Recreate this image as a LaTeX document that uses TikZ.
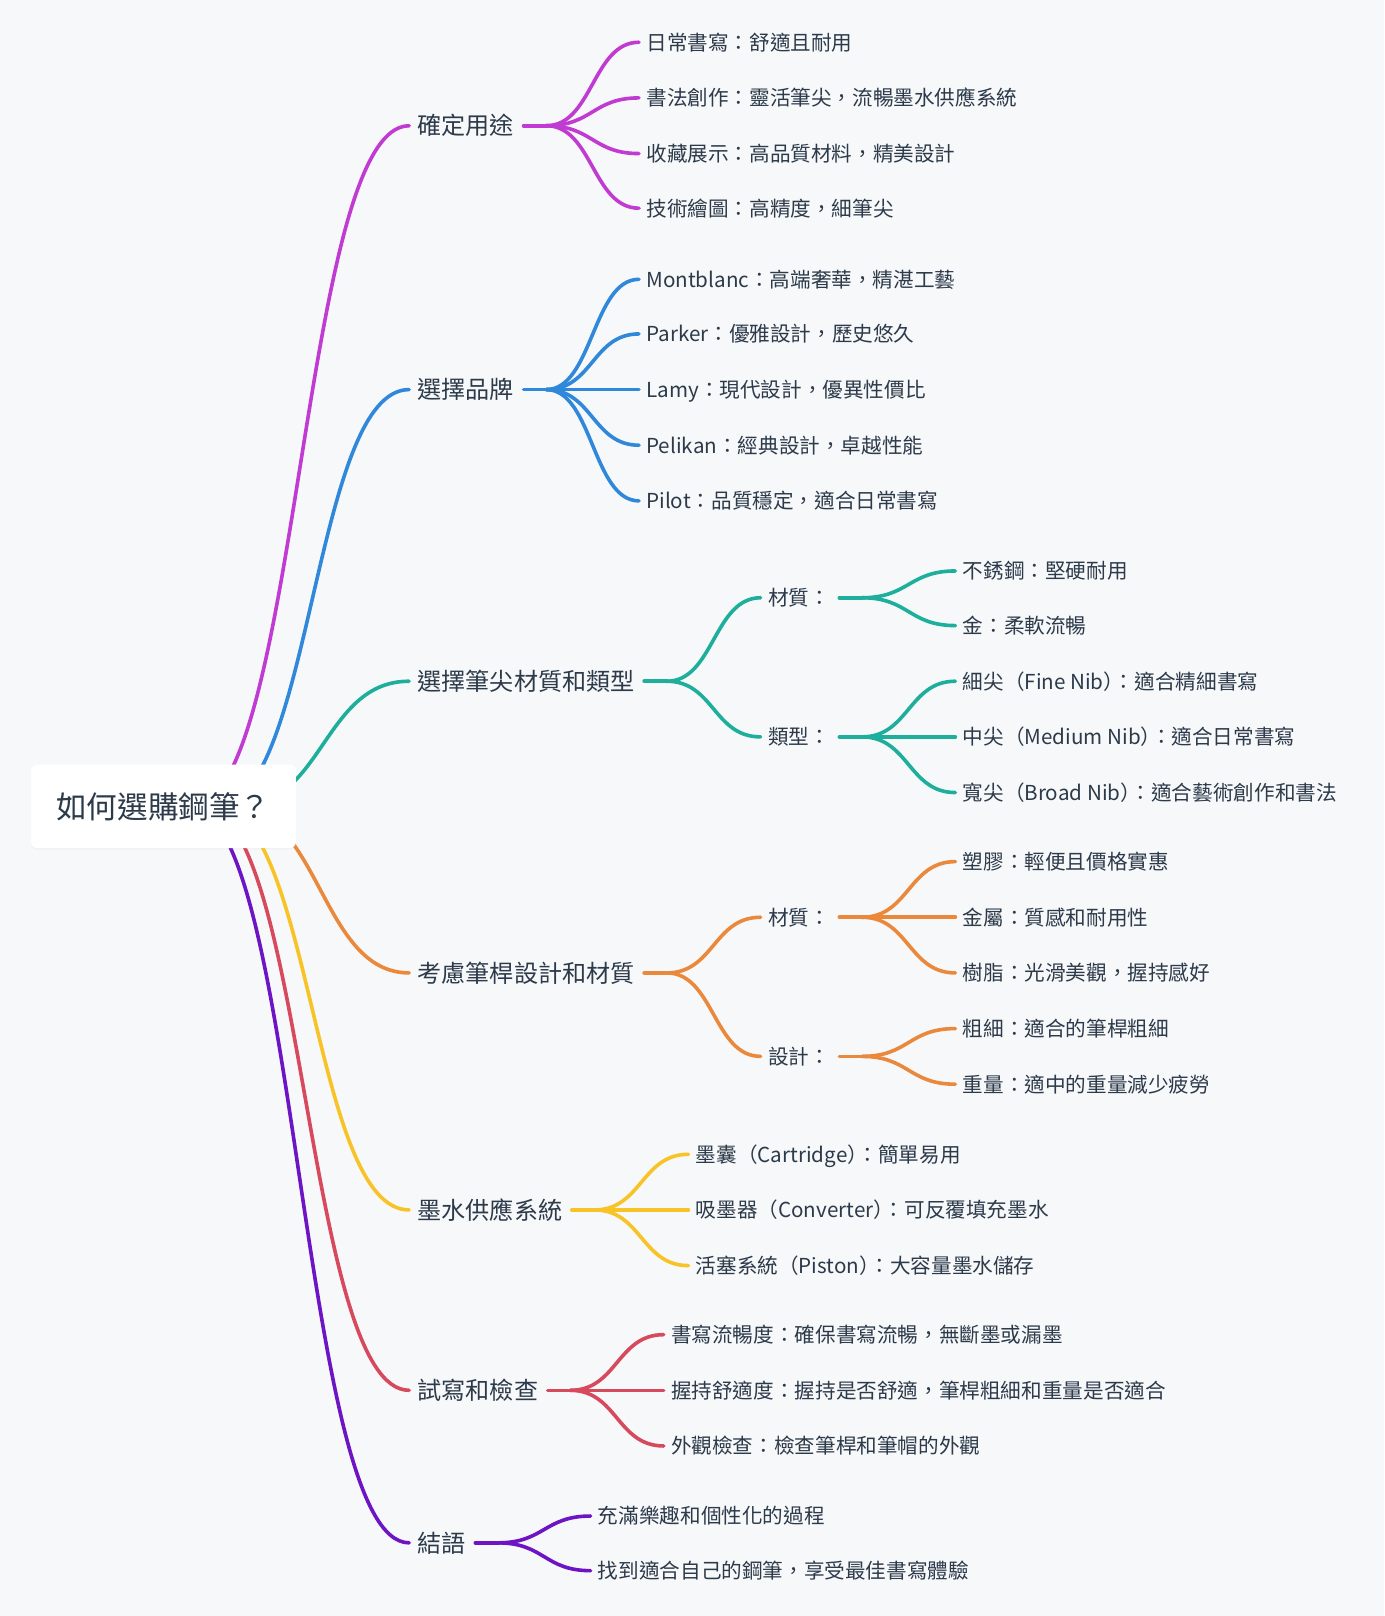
\documentclass[tikz,border=0pt]{standalone}
\usepackage{fontspec}
\setmainfont{Noto Sans CJK TC}
\usepackage{tikz}
\usetikzlibrary{calc, backgrounds, shadows}
\usepackage{xcolor}
\definecolor{MapBg}{HTML}{F7F8FA}
\definecolor{MapText}{HTML}{2C3A4A}
\definecolor{MapPurple}{HTML}{C13BD3}
\definecolor{MapBlue}{HTML}{3088DA}
\definecolor{MapTeal}{HTML}{1DAF9B}
\definecolor{MapOrange}{HTML}{EA893B}
\definecolor{MapYellow}{HTML}{F8C327}
\definecolor{MapRed}{HTML}{D7495C}
\definecolor{MapViolet}{HTML}{6D15C5}
\tikzset{
    % Node styles
    rootbox/.style={
        rectangle,
        rounded corners=6pt,
        fill=white,
        minimum width=257pt,
        minimum height=81pt,
        text height=26.1pt,
        text depth=3.6pt,
        text=MapText,
        font=\fontsize{29.7}{34}\selectfont,
        drop shadow={opacity=0.05, shadow xshift=0pt, shadow yshift=-1.5pt}
    },
    branch/.style={
        anchor=west,
        inner sep=0pt,
        text height=20.6pt,
        text depth=2.8pt,
        text=MapText,
        font=\fontsize{23.4}{28}\selectfont
    },
    leaf/.style={
        anchor=west,
        inner sep=0pt,
        text height=17.6pt,
        text depth=2.4pt,
        text=MapText,
        font=\fontsize{20}{24}\selectfont
    },
    % Connector style - smooth horizontal links
    link/.style={
        line width=3.5pt,
        line cap=round,
        to path={let \p1=(\tikztostart), \p2=(\tikztotarget) in
            .. controls ({(\x1+\x2)/2},\y1) and ({(\x1+\x2)/2},\y2) .. (\tikztotarget)}
    }
}
% closing paren followed by colon, set tight
\newcommand{\pcolon}{）\kern-.5em：}
\begin{document}
\begin{tikzpicture}[x=1pt, y=-1pt]
    \useasboundingbox (0,0) rectangle (1343,1568);

    % Root
    \node[rootbox] (r) at (158.5,782.5) {如何選購鋼筆？};

    % Main branches
    \node[branch] (b1) at (405,122) {確定用途};
    \node[branch] (b2) at (405,378) {選擇品牌};
    \node[branch] (b3) at (405,661) {選擇筆尖材質和類型};
    \node[branch] (b4) at (405,944) {考慮筆桿設計和材質};
    \node[branch] (b5) at (405,1174) {墨水供應系統};
    \node[branch] (b6) at (405,1349) {試寫和檢查};
    \node[branch] (b7) at (405,1497) {結語};

    % Use
    \node[leaf] (l11) at (627,41) {日常書寫：舒適且耐用};
    \node[leaf] (l12) at (627,95) {書法創作：靈活筆尖，流暢墨水供應系統};
    \node[leaf] (l13) at (627,149) {收藏展示：高品質材料，精美設計};
    \node[leaf] (l14) at (627,202) {技術繪圖：高精度，細筆尖};

    % Brands
    \node[leaf] (l21) at (627,271) {Montblanc：高端奢華，精湛工藝};
    \node[leaf] (l22) at (627,324) {Parker：優雅設計，歷史悠久};
    \node[leaf] (l23) at (627,378) {Lamy：現代設計，優異性價比};
    \node[leaf] (l24) at (627,432) {Pelikan：經典設計，卓越性能};
    \node[leaf] (l25) at (627,486) {Pilot：品質穩定，適合日常書寫};

    % Nib
    \node[leaf] (m31) at (745,580) {材質：};
    \node[leaf] (m32) at (745,715) {類型：};
    \node[leaf] (l311) at (934,554) {不銹鋼：堅硬耐用};
    \node[leaf] (l312) at (934,607) {金：柔軟流暢};
    \node[leaf] (l321) at (934,661) {細尖（Fine Nib\pcolon 適合精細書寫};
    \node[leaf] (l322) at (934,715) {中尖（Medium Nib\pcolon 適合日常書寫};
    \node[leaf] (l323) at (934,769) {寬尖（Broad Nib\pcolon 適合藝術創作和書法};

    % Barrel
    \node[leaf] (m41) at (745,890) {材質：};
    \node[leaf] (m42) at (745,1025) {設計：};
    \node[leaf] (l411) at (934,836) {塑膠：輕便且價格實惠};
    \node[leaf] (l412) at (934,890) {金屬：質感和耐用性};
    \node[leaf] (l413) at (934,944) {樹脂：光滑美觀，握持感好};
    \node[leaf] (l421) at (934,998) {粗細：適合的筆桿粗細};
    \node[leaf] (l422) at (934,1052) {重量：適中的重量減少疲勞};

    % Ink
    \node[leaf] (l51) at (675,1120) {墨囊（Cartridge\pcolon 簡單易用};
    \node[leaf] (l52) at (675,1174) {吸墨器（Converter\pcolon 可反覆填充墨水};
    \node[leaf] (l53) at (675,1228) {活塞系統（Piston\pcolon 大容量墨水儲存};

    % Test
    \node[leaf] (l61) at (651,1295) {書寫流暢度：確保書寫流暢，無斷墨或漏墨};
    \node[leaf] (l62) at (651,1349) {握持舒適度：握持是否舒適，筆桿粗細和重量是否適合};
    \node[leaf] (l63) at (651,1403) {外觀檢查：檢查筆桿和筆帽的外觀};

    % Conclusion
    \node[leaf] (l71) at (580,1471) {充滿樂趣和個性化的過程};
    \node[leaf] (l72) at (580,1524) {找到適合自己的鋼筆，享受最佳書寫體驗};

    \begin{scope}[on background layer]
        \fill[MapBg] (0,0) rectangle (1343,1568);

        % Root to branches
        \draw[link, MapPurple] ([xshift=27pt]r.center) to ([xshift=-8pt]b1.west);
        \draw[link, MapBlue] ([xshift=51pt]r.center) to ([xshift=-8pt]b2.west);
        \draw[link, MapTeal] ([xshift=72pt]r.center) to ([xshift=-8pt]b3.west);
        \draw[link, MapOrange] ([xshift=66pt]r.center) to ([xshift=-8pt]b4.west);
        \draw[link, MapYellow] ([xshift=50pt]r.center) to ([xshift=-8pt]b5.west);
        \draw[link, MapRed] ([xshift=37pt]r.center) to ([xshift=-8pt]b6.west);
        \draw[link, MapViolet] ([xshift=25pt]r.center) to ([xshift=-8pt]b7.west);

        % Use
        \draw[link, MapPurple] ([xshift=9pt]b1.east) -- ([xshift=31pt]b1.east);
        \draw[link, MapPurple] ([xshift=31pt]b1.east) to ([xshift=-7pt]l11.west);
        \draw[link, MapPurple] ([xshift=31pt]b1.east) to ([xshift=-7pt]l12.west);
        \draw[link, MapPurple] ([xshift=31pt]b1.east) to ([xshift=-7pt]l13.west);
        \draw[link, MapPurple] ([xshift=31pt]b1.east) to ([xshift=-7pt]l14.west);

        % Brands
        \draw[link, MapBlue] ([xshift=9pt]b2.east) -- ([xshift=31pt]b2.east);
        \draw[link, MapBlue] ([xshift=31pt]b2.east) to ([xshift=-7pt]l21.west);
        \draw[link, MapBlue] ([xshift=31pt]b2.east) to ([xshift=-7pt]l22.west);
        \draw[link, MapBlue] ([xshift=31pt]b2.east) to ([xshift=-7pt]l23.west);
        \draw[link, MapBlue] ([xshift=31pt]b2.east) to ([xshift=-7pt]l24.west);
        \draw[link, MapBlue] ([xshift=31pt]b2.east) to ([xshift=-7pt]l25.west);

        % Nib
        \draw[link, MapTeal] ([xshift=9pt]b3.east) -- ([xshift=31pt]b3.east);
        \draw[link, MapTeal] ([xshift=31pt]b3.east) to ([xshift=-7pt]m31.west);
        \draw[link, MapTeal] ([xshift=31pt]b3.east) to ([xshift=-7pt]m32.west);
        \draw[link, MapTeal] ([xshift=9pt]m31.east) -- ([xshift=31pt]m31.east);
        \draw[link, MapTeal] ([xshift=31pt]m31.east) to ([xshift=-7pt]l311.west);
        \draw[link, MapTeal] ([xshift=31pt]m31.east) to ([xshift=-7pt]l312.west);
        \draw[link, MapTeal] ([xshift=9pt]m32.east) -- ([xshift=31pt]m32.east);
        \draw[link, MapTeal] ([xshift=31pt]m32.east) to ([xshift=-7pt]l321.west);
        \draw[link, MapTeal] ([xshift=31pt]m32.east) to ([xshift=-7pt]l322.west);
        \draw[link, MapTeal] ([xshift=31pt]m32.east) to ([xshift=-7pt]l323.west);

        % Barrel
        \draw[link, MapOrange] ([xshift=9pt]b4.east) -- ([xshift=31pt]b4.east);
        \draw[link, MapOrange] ([xshift=31pt]b4.east) to ([xshift=-7pt]m41.west);
        \draw[link, MapOrange] ([xshift=31pt]b4.east) to ([xshift=-7pt]m42.west);
        \draw[link, MapOrange] ([xshift=9pt]m41.east) -- ([xshift=31pt]m41.east);
        \draw[link, MapOrange] ([xshift=31pt]m41.east) to ([xshift=-7pt]l411.west);
        \draw[link, MapOrange] ([xshift=31pt]m41.east) to ([xshift=-7pt]l412.west);
        \draw[link, MapOrange] ([xshift=31pt]m41.east) to ([xshift=-7pt]l413.west);
        \draw[link, MapOrange] ([xshift=9pt]m42.east) -- ([xshift=31pt]m42.east);
        \draw[link, MapOrange] ([xshift=31pt]m42.east) to ([xshift=-7pt]l421.west);
        \draw[link, MapOrange] ([xshift=31pt]m42.east) to ([xshift=-7pt]l422.west);

        % Ink
        \draw[link, MapYellow] ([xshift=9pt]b5.east) -- ([xshift=31pt]b5.east);
        \draw[link, MapYellow] ([xshift=31pt]b5.east) to ([xshift=-7pt]l51.west);
        \draw[link, MapYellow] ([xshift=31pt]b5.east) to ([xshift=-7pt]l52.west);
        \draw[link, MapYellow] ([xshift=31pt]b5.east) to ([xshift=-7pt]l53.west);

        % Test
        \draw[link, MapRed] ([xshift=9pt]b6.east) -- ([xshift=31pt]b6.east);
        \draw[link, MapRed] ([xshift=31pt]b6.east) to ([xshift=-7pt]l61.west);
        \draw[link, MapRed] ([xshift=31pt]b6.east) to ([xshift=-7pt]l62.west);
        \draw[link, MapRed] ([xshift=31pt]b6.east) to ([xshift=-7pt]l63.west);

        % Conclusion
        \draw[link, MapViolet] ([xshift=9pt]b7.east) -- ([xshift=31pt]b7.east);
        \draw[link, MapViolet] ([xshift=31pt]b7.east) to ([xshift=-7pt]l71.west);
        \draw[link, MapViolet] ([xshift=31pt]b7.east) to ([xshift=-7pt]l72.west);
    \end{scope}
\end{tikzpicture}
\end{document}
